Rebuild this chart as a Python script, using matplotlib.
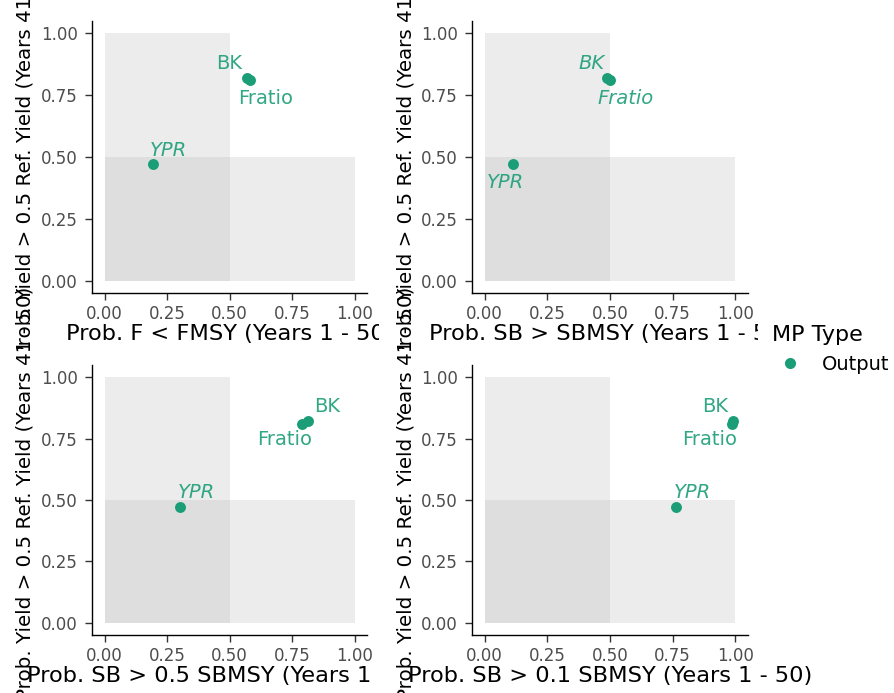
import numpy as np
import matplotlib
matplotlib.use("Agg")
import matplotlib.pyplot as plt
from matplotlib.patches import Rectangle
from matplotlib.lines import Line2D

plt.rcParams.update({
    "font.family": "DejaVu Sans",
    "axes.linewidth": 1.0,
})

W, H = 894, 693  # figure size in pixels (dpi 100)

# --- data ---
mp_names = ["BK", "Fratio", "YPR"]
x_titles = ["Prob. F < FMSY (Years 1 - 50)",
            "Prob. SB > SBMSY (Years 1 - 50)",
            "Prob. SB > 0.5 SBMSY (Years 1 - 50)",
            "Prob. SB > 0.1 SBMSY (Years 1 - 50)"]
y_title = "Prob. Yield > 0.5 Ref. Yield (Years 41 - 50)"

x_vals = [[0.57, 0.58, 0.195],
          [0.49, 0.50, 0.115],
          [0.815, 0.79, 0.30],
          [0.99, 0.985, 0.765]]
y_vals = [0.82, 0.81, 0.47]  # long-term yield, same in every panel

tick_vals = [0, 0.25, 0.5, 0.75, 1.0]
tick_labels = ["0.00", "0.25", "0.50", "0.75", "1.00"]
thresh = 0.5

# label placement (ggrepel-like) and styles, per panel
label_pos = [[(0.50, 0.88), (0.645, 0.737), (0.255, 0.528)],
             [(0.427, 0.88), (0.562, 0.738), (0.083, 0.395)],
             [(0.889, 0.88), (0.722, 0.745), (0.369, 0.529)],
             [(0.92, 0.88), (0.897, 0.745), (0.827, 0.529)]]
label_style = [["normal", "normal", "italic"],
               ["italic", "italic", "italic"],
               ["normal", "normal", "italic"],
               ["normal", "normal", "italic"]]

col = "#1b9e77"

# pixel layout: grid cells (x0, y0, x1, y1) and panel boxes
cells = [(0, 0, 379, 349), (379, 0, 758, 349),
         (0, 349, 379, 693), (379, 349, 758, 693)]
boxes = [(92, 21, 367, 293), (472, 21, 748, 293),
         (92, 365, 367, 635), (472, 365, 748, 635)]


def rect(x0, y0, x1, y1):
    return [x0 / W, 1 - y1 / H, (x1 - x0) / W, (y1 - y0) / H]


fig = plt.figure(figsize=(W / 100, H / 100), dpi=100)
fig.patch.set_facecolor("white")

for i in range(4):
    # white cell background so later panels hide earlier overflow text
    bg = fig.add_axes(rect(*cells[i]), zorder=2 * i)
    bg.set_facecolor("white")
    bg.set_xticks([])
    bg.set_yticks([])
    for s in bg.spines.values():
        s.set_visible(False)

    ax = fig.add_axes(rect(*boxes[i]), zorder=2 * i + 1)
    ax.set_facecolor("none")
    ax.add_patch(Rectangle((0, 0), thresh, 1, facecolor="#bebebe", alpha=0.29, lw=0))
    ax.add_patch(Rectangle((0, 0), 1, thresh, facecolor="#bebebe", alpha=0.29, lw=0))
    ax.scatter(x_vals[i], y_vals, s=62, color=col, zorder=3, lw=0)
    for j, name in enumerate(mp_names):
        lx, ly = label_pos[i][j]
        ax.text(lx, ly, name, ha="center", va="center", color=col,
                fontsize=14, fontstyle=label_style[i][j], alpha=0.9)

    ax.set_xlim(-0.05, 1.05)
    ax.set_ylim(-0.05, 1.05)
    ax.set_xticks(tick_vals)
    ax.set_xticklabels(tick_labels)
    ax.set_yticks(tick_vals)
    ax.set_yticklabels(tick_labels)
    ax.tick_params(length=5, width=1, color="#333333", labelcolor="#4d4d4d",
                   labelsize=12, pad=3.6)
    ax.tick_params(axis="y", pad=5)
    ax.spines["top"].set_visible(False)
    ax.spines["right"].set_visible(False)

    bw = boxes[i][2] - boxes[i][0]
    bh = boxes[i][3] - boxes[i][1]
    ax.set_xlabel(x_titles[i], fontsize=16.2, color="black", va="baseline")
    ax.xaxis.set_label_coords(0.5, -47 / bh)
    ax.set_ylabel(y_title, fontsize=14.3, color="black")
    ax.yaxis.set_label_coords(-57 / bw, 0.5 + 7 / bh)

# legend box
leg_ax = fig.add_axes(rect(758, 318, 894, 392), zorder=10)
leg_ax.set_facecolor("white")
leg_ax.set_xticks([])
leg_ax.set_yticks([])
for s in leg_ax.spines.values():
    s.set_visible(False)
handle = Line2D([], [], marker="o", ls="", color=col, markersize=8, markeredgewidth=0)
leg_ax.legend([handle], ["Output"], title="MP Type", loc="upper left",
              bbox_to_anchor=(772 / W, 1 - 325 / H), bbox_transform=fig.transFigure,
              frameon=False, alignment="left", fontsize=14, title_fontsize=16,
              borderpad=0, borderaxespad=0, handlelength=1.85, handletextpad=0.7)

fig.savefig("out.png", dpi=100)
